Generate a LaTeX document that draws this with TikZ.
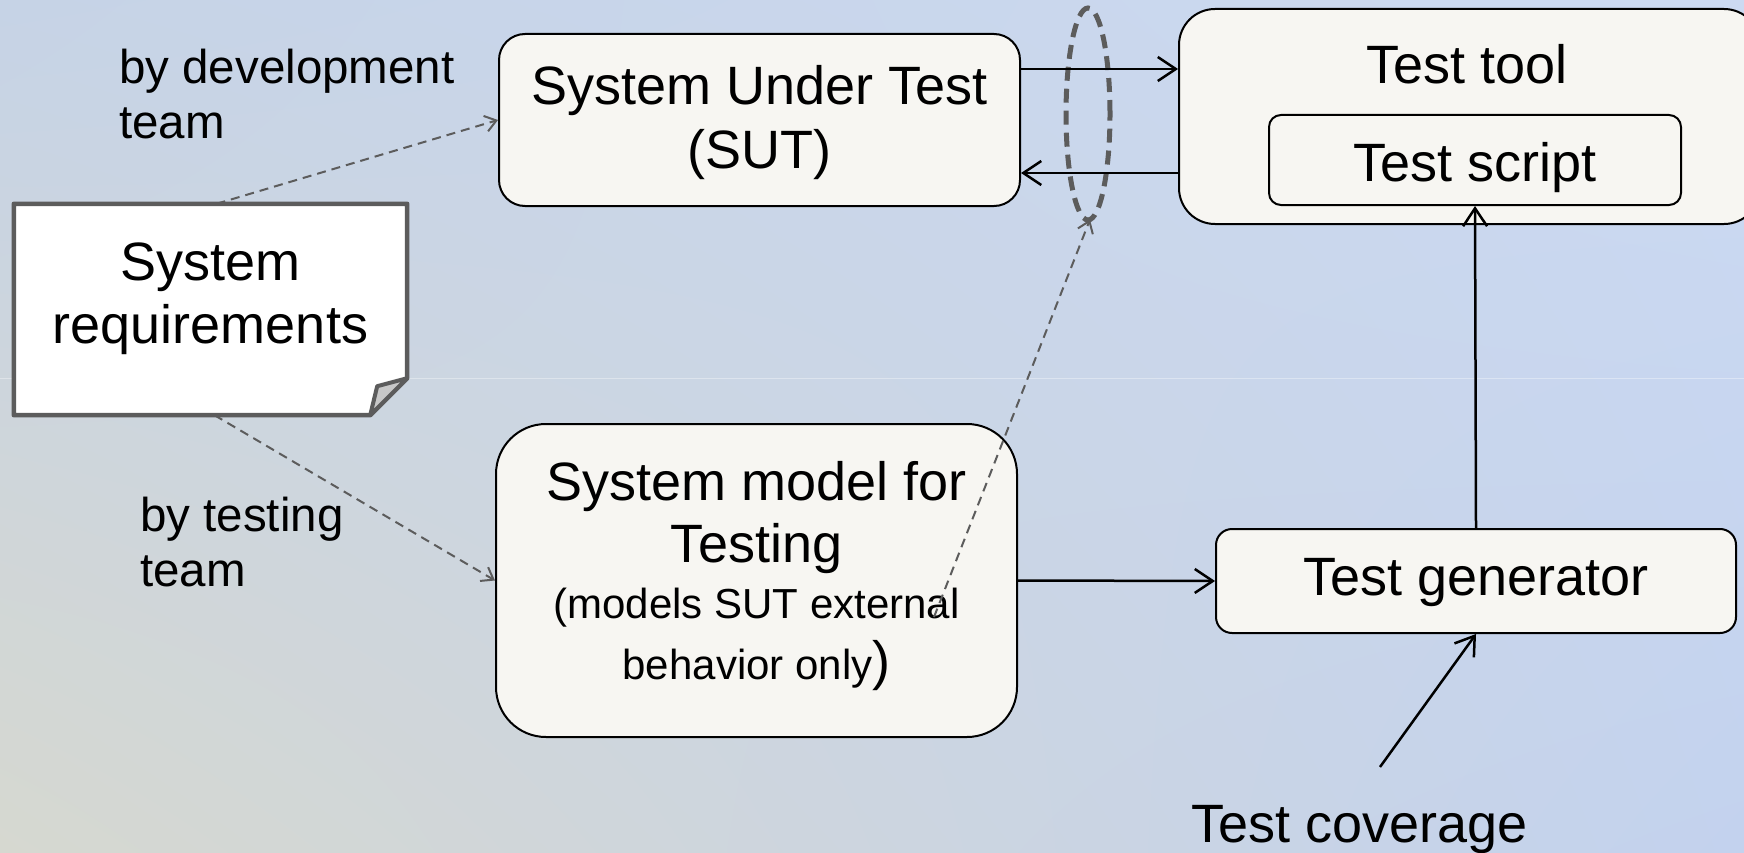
\documentclass[tikz,border=0pt]{standalone}
\usepackage{fontspec}
\setmainfont{Liberation Sans}
\usetikzlibrary{arrows.meta,shapes.geometric,calc,shadings}
\definecolor{boxfill}{HTML}{F7F6F2}
\definecolor{bgtl}{HTML}{C6D3E6}
\definecolor{bgtr}{HTML}{CCDAF2}
\definecolor{bgbl}{HTML}{D6D8D0}
\definecolor{bgbr}{HTML}{C3D2EE}
\definecolor{dgray}{HTML}{5C5C5C}
\definecolor{foldgray}{HTML}{C8C8C8}
\begin{document}
\begin{tikzpicture}[x=1pt,y=-1pt,
  box/.style={draw=black,line width=2pt,fill=boxfill,rounded corners=#1,inner sep=0pt},
  bigtext/.style={font=\fontsize{54}{64}\selectfont,align=center,inner sep=0pt},
  labeltext/.style={font=\fontsize{47.5}{55}\selectfont,align=left,inner sep=0pt,anchor=west},
  solidarrow/.style={line width=2.5pt,-{Straight Barb[length=18pt,width=24pt,line width=2.5pt]}},
  dasharrow/.style={dgray,line width=2pt,dash pattern=on 9pt off 6pt,-{Straight Barb[length=11pt,width=16pt,line width=2pt]}},
  ellstyle/.style={draw=dgray,line width=5pt,dash pattern=on 14pt off 8pt,ellipse,inner sep=0pt}
]
\useasboundingbox (0,0) rectangle (1744,853);
\clip (0,0) rectangle (1744,853);
\shade[upper left=bgtl,upper right=bgtr,lower left=bgbl,lower right=bgbr] (0,0) rectangle (1744,853);
\draw[white,opacity=0.35,line width=1pt] (0,378) -- (1744,378);

% boxes
\node[box=26pt,minimum width=521pt,minimum height=172pt] (sut) at (759.5,120) {};
\node[bigtext] (suttext) at (759.5,123) {System Under Test\\(SUT)};
\node[box=36pt,minimum width=581pt,minimum height=215pt] (tool) at (1469.5,116.5) {};
\node[bigtext] (tooltext) at (1467,64) {Test tool};
\node[box=12pt,minimum width=412pt,minimum height=90pt] (script) at (1475,160) {};
\node[bigtext] (scripttext) at (1475,168) {Test script};
\node[box=50pt,minimum width=521pt,minimum height=313pt] (model) at (756.5,580.5) {};
\node[bigtext,font=\fontsize{54}{62}\selectfont] (modeltext) at (756.5,518) {System model for\\Testing};
\node[align=center,inner sep=0pt,font=\fontsize{42}{61}\selectfont] (modelsub) at (756.5,639) {(models SUT external\\behavior only{\fontsize{54}{61}\selectfont)}};
\node[box=16pt,minimum width=520pt,minimum height=104pt] (gen) at (1476,581) {};
\node[bigtext] (gentext) at (1476,583) {Test generator};

% note
\node[inner sep=0pt,minimum width=393pt,minimum height=211pt] (note) at (210.5,309.5) {};
\draw[dgray,line width=4.5pt,fill=white,line join=round]
  (note.north west) -- (note.north east) -- ($(note.south east)+(0,-37)$)
  -- ($(note.south east)+(-37,0)$) -- (note.south west) -- cycle;
\draw[dgray,line width=4pt,fill=foldgray,line join=round]
  ($(note.south east)+(0,-37)$) -- ($(note.south east)+(-30,-29)$) -- ($(note.south east)+(-37,0)$) -- cycle;
\node[bigtext,font=\fontsize{54}{63}\selectfont] (notetext) at (210.5,298.5) {System\\requirements};

% labels
\node[labeltext] (devlabel) at (119,94) {by development\\team};
\node[labeltext] (testlabel) at (140,542) {by testing\\team};
\node[bigtext,anchor=west] (coverage) at (1191,830) {Test coverage};

% ellipse
\node[ellstyle,minimum width=44pt,minimum height=212pt] (ell) at (1088,114) {};

% connectors
\coordinate (ya) at (0,69);
\coordinate (yb) at (0,173);
\draw[solidarrow] (sut.east |- ya) -- (tool.west |- ya);
\draw[solidarrow] (tool.west |- yb) -- (sut.east |- yb);
\draw[solidarrow] (model.east) -- (gen.west);
\draw[solidarrow] (gen.north) -- (script.south);
\coordinate (covstart) at (1380,767);
\draw[line width=2.5pt,-{Straight Barb[length=18pt,width=24pt,line width=2.5pt]}] (covstart) -- (gen.south);

\draw[dasharrow] ($(note.north)+(6,0)$) -- (sut.west);
\draw[dasharrow] ($(note.south)+(4,0)$) -- (model.west);
\coordinate (mstart) at (934,617);
\draw[dasharrow] (mstart) -- ($(ell.south)+(2,-3)$);
\end{tikzpicture}
\end{document}
